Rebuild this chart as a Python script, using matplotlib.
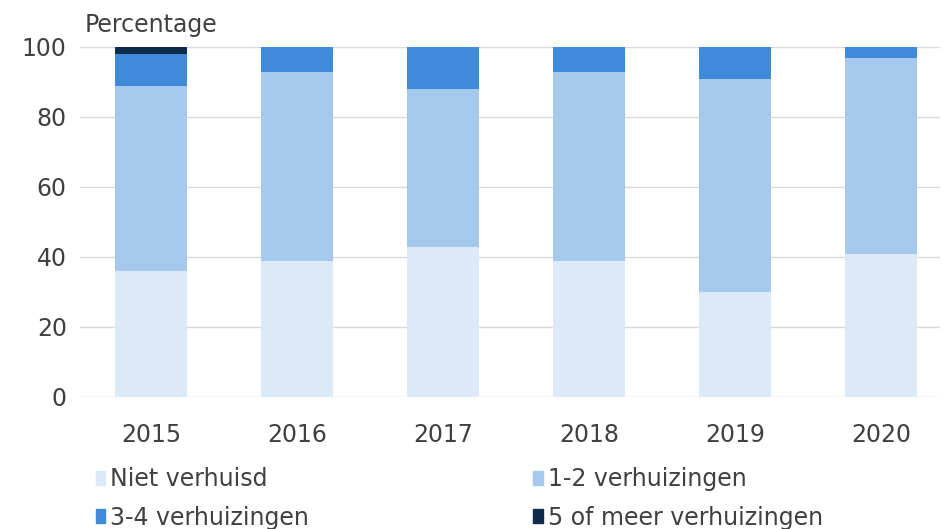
import matplotlib
matplotlib.use("Agg")
import matplotlib.pyplot as plt
from matplotlib.patches import Patch
import numpy as np

years = ["2015", "2016", "2017", "2018", "2019", "2020"]
niet = [36, 39, 43, 39, 30, 41]
een_twee = [53, 54, 45, 54, 61, 56]
drie_vier = [9, 7, 12, 7, 9, 3]
vijf_meer = [2, 0, 0, 0, 0, 0]
series_names = ["Niet verhuisd", "1-2 verhuizingen", "3-4 verhuizingen", "5 of meer verhuizingen"]
colors = ["#dbe9f8", "#a5c9ec", "#3f8bd9", "#0f2b4b"]
yticks = [0, 20, 40, 60, 80, 100]

plt.rcParams['font.family'] = ['DejaVu Sans']
txt = "#404040"
fs = 17

fig = plt.figure(figsize=(9.43, 5.29), dpi=100)
ax = fig.add_axes([80/943, 1-397/529, 860/943, 350/529])

x = np.arange(len(years))
bottom = np.zeros(len(years))
for vals, c in zip([niet, een_twee, drie_vier, vijf_meer], colors):
    ax.bar(x, vals, width=0.49, bottom=bottom, color=c, zorder=3)
    bottom += np.array(vals)

ax.set_ylim(0, 100)
ax.set_xlim(-0.486, 5.404)
ax.set_yticks(yticks)
ax.set_xticks(x)
ax.set_xticklabels(years)
ax.grid(axis='y', color='#d9d9d9', linewidth=1, zorder=0)
for s in ax.spines.values():
    s.set_visible(False)
ax.tick_params(axis='both', length=0, labelsize=fs, labelcolor=txt)
ax.tick_params(axis='x', pad=19)
ax.tick_params(axis='y', pad=9.5)
fig.text(85/943, 1-25/529, "Percentage", fontsize=fs, color=txt, va='center', ha='left')

handles = [Patch(color=c) for c in colors]
order = [0, 2, 1, 3]
fig.legend([handles[i] for i in order], [series_names[i] for i in order],
           ncol=2, loc='upper left', bbox_to_anchor=(96/943, 1-467/529),
           frameon=False, fontsize=fs, labelcolor=txt,
           handlelength=0.4, handleheight=0.55, handletextpad=0.2,
           columnspacing=9.5, labelspacing=0.62, borderaxespad=0, borderpad=0)

fig.savefig("out.png", dpi=100)
